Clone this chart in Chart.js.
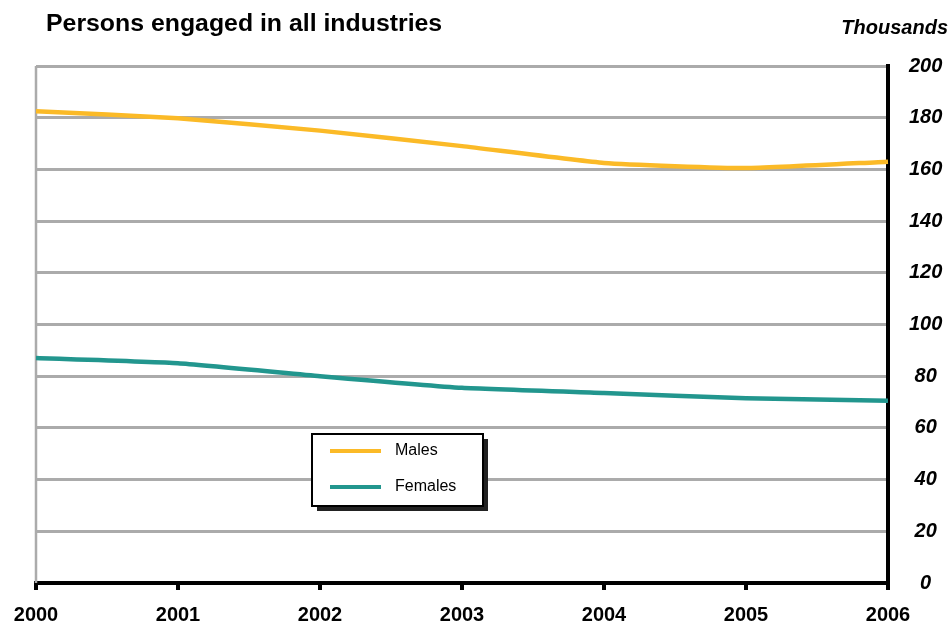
<!DOCTYPE html>
<html>
<head>
<meta charset="utf-8">
<title>Persons engaged in all industries</title>
<script src="https://cdn.jsdelivr.net/npm/chart.js@4/dist/chart.umd.min.js"></script>
<style>
  html, body { margin: 0; padding: 0; background: #fff; }
  #wrap { width: 952px; height: 627px; }
</style>
</head>
<body>
<div id="wrap"><canvas id="personsChart" width="952" height="627"></canvas></div>
<script>
// Chart data (thousands)
const years = ['2000', '2001', '2002', '2003', '2004', '2005', '2006'];
const malesData = [182.5, 179.8, 175, 169, 162.5, 160.5, 163];
const femalesData = [87, 85, 80, 75.5, 73.5, 71.5, 70.5];
const seriesNames = ['Males', 'Females'];

const chartTitle = 'Persons engaged in all industries';
const unitsLabel = 'Thousands';

const FONT = '"Liberation Sans", Arial, Helvetica, sans-serif';
const GRID_GREY = '#ababab';

window.addEventListener('DOMContentLoaded', () => {

  // Title + units text, grey left border of the plot area
  const frameText = {
    id: 'frameText',
    beforeDatasetsDraw(chart) {
      const { ctx, chartArea } = chart;
      ctx.save();
      ctx.strokeStyle = GRID_GREY;
      ctx.lineWidth = 2.5;
      ctx.beginPath();
      ctx.moveTo(chartArea.left, chartArea.top);
      ctx.lineTo(chartArea.left, chartArea.bottom);
      ctx.stroke();
      ctx.restore();
    },
    afterDraw(chart) {
      const ctx = chart.ctx;
      ctx.save();
      ctx.fillStyle = '#000';
      ctx.textBaseline = 'alphabetic';
      // title is a bit wider in the original, stretch it slightly
      ctx.save();
      ctx.translate(46, 31);
      ctx.scale(1.08, 1);
      ctx.font = 'bold 23px ' + FONT;
      ctx.textAlign = 'left';
      ctx.fillText(chartTitle, 0, 0);
      ctx.restore();
      ctx.font = 'italic bold 20px ' + FONT;
      ctx.textAlign = 'right';
      ctx.fillText(unitsLabel, 948, 34);
      ctx.restore();
    }
  };

  // Boxed legend with a drop shadow, inside the plot
  const boxLegend = {
    id: 'boxLegend',
    afterDraw(chart) {
      const ctx = chart.ctx;
      const x = 312, y = 434, w = 171, h = 72;
      ctx.save();
      // shadow
      ctx.fillStyle = '#222';
      ctx.fillRect(x + 5, y + 5, w, h);
      // box
      ctx.fillStyle = '#fff';
      ctx.fillRect(x, y, w, h);
      ctx.strokeStyle = '#000';
      ctx.lineWidth = 2;
      ctx.strokeRect(x, y, w, h);

      ctx.font = '16px ' + FONT;
      ctx.textBaseline = 'middle';
      ctx.textAlign = 'left';
      chart.data.datasets.forEach((ds, i) => {
        const ly = y + 17 + i * 36;
        ctx.strokeStyle = ds.borderColor;
        ctx.lineWidth = 4;
        ctx.beginPath();
        ctx.moveTo(x + 18, ly);
        ctx.lineTo(x + 69, ly);
        ctx.stroke();
        ctx.fillStyle = '#000';
        ctx.fillText(ds.label, x + 83, ly);
      });
      ctx.restore();
    }
  };

  const ctx = document.getElementById('personsChart').getContext('2d');

  new Chart(ctx, {
    type: 'line',
    data: {
      labels: years,
      datasets: [
        {
          label: seriesNames[0],
          data: malesData,
          borderColor: '#fbba27',
          borderWidth: 4.5,
          pointRadius: 0,
          tension: 0.15,
          fill: false
        },
        {
          label: seriesNames[1],
          data: femalesData,
          borderColor: '#22968e',
          borderWidth: 4.5,
          pointRadius: 0,
          tension: 0.15,
          fill: false
        }
      ]
    },
    options: {
      responsive: false,
      animation: false,
      devicePixelRatio: 1,
      layout: { padding: { left: 36, top: 66, right: 0, bottom: 0 } },
      plugins: {
        legend: { display: false },
        title: { display: false },
        tooltip: { enabled: false }
      },
      scales: {
        x: {
          offset: false,
          afterFit(scale) { scale.height = 44; },
          grid: {
            display: true,
            drawOnChartArea: false,
            drawTicks: true,
            tickLength: 7,
            tickColor: '#000',
            tickWidth: 4,
            lineWidth: 4
          },
          border: { display: true, color: '#000', width: 4 },
          ticks: {
            color: '#000',
            font: { family: FONT, size: 20, weight: 'bold' },
            padding: 13,
            maxRotation: 0,
            autoSkip: false
          }
        },
        y: {
          position: 'right',
          min: 0,
          max: 200,
          afterFit(scale) { scale.width = 64; },
          grid: {
            drawTicks: false,
            lineWidth: 3,
            color: c => (c.tick && c.tick.value === 0) ? 'rgba(0,0,0,0)' : GRID_GREY
          },
          border: { display: true, color: '#000', width: 4 },
          ticks: {
            stepSize: 20,
            color: '#000',
            crossAlign: 'center',
            padding: 21,
            font: { family: FONT, size: 20, weight: 'bold', style: 'italic' }
          }
        }
      }
    },
    plugins: [frameText, boxLegend]
  });
});
</script>
</body>
</html>
